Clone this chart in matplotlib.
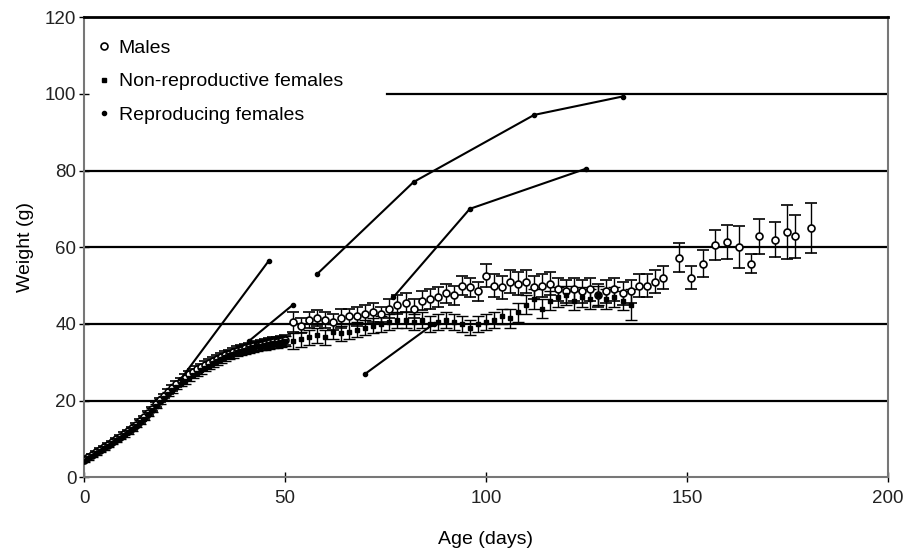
import matplotlib
matplotlib.use('Agg')
import matplotlib.pyplot as plt
from matplotlib.lines import Line2D
import numpy as np

# Males: age (days), mean weight (g), standard error
male_age = [0, 1, 2, 3, 4, 5, 6, 7, 8, 9, 10, 11, 12, 13, 14, 15, 16, 17, 18, 19,
            20, 21, 22, 23, 24, 25, 26, 27, 28, 29, 30, 31, 32, 33, 34, 35, 36, 37,
            38, 39, 40, 41, 42, 43, 44, 45, 46, 47, 48, 49, 50,
            52, 54, 56, 58, 60, 62, 64, 66, 68, 70, 72, 74, 76, 78, 80, 82, 84, 86,
            88, 90, 92, 94, 96, 98, 100, 102, 104, 106, 108, 110, 112, 114, 116, 118,
            120, 122, 124, 126, 128, 130, 132, 134, 136, 138, 140, 142, 144,
            148, 151, 154, 157, 160, 163, 166, 168, 172, 175, 177, 181]
male_wt = [4.5, 5.2, 5.8, 6.5, 7.2, 7.9, 8.5, 9.2, 9.9, 10.6, 11.3, 12.0, 12.8, 13.7,
           14.6, 15.6, 16.7, 17.8, 19.0, 20.1, 21.2, 22.3, 23.3, 24.3, 25.2, 26.0,
           26.8, 27.5, 28.1, 28.7, 29.3, 29.9, 30.4, 30.9, 31.4, 31.8, 32.2, 32.6,
           33.0, 33.3, 33.6, 33.9, 34.1, 34.3, 34.6, 34.8, 35.0, 35.2, 35.4, 35.6, 35.8,
           40.5, 39.5, 41.0, 41.5, 41.0, 40.5, 41.5, 42.0, 42.0, 42.5, 43.0, 42.5,
           44.0, 45.0, 45.5, 44.0, 46.0, 46.5, 47.0, 48.0, 47.5, 50.0, 49.5, 48.5,
           52.5, 50.0, 49.5, 51.0, 50.5, 51.0, 49.5, 50.0, 50.5, 49.0, 48.5, 49.0,
           48.5, 49.0, 47.5, 48.5, 49.0, 48.0, 48.5, 50.0, 50.0, 51.0, 52.0,
           57.3, 52.0, 55.7, 60.6, 61.4, 60.0, 55.7, 62.8, 62.0, 64.0, 62.8, 65.0]
male_se = [0.3, 0.3, 0.3, 0.3, 0.3, 0.3, 0.3, 0.3, 0.4, 0.4, 0.4, 0.4, 0.4, 0.4,
           0.5, 0.5, 0.5, 0.5, 0.6, 0.6, 0.6, 0.6, 0.7, 0.7, 0.7, 0.8, 0.8, 0.8,
           0.8, 0.9, 0.9, 0.9, 0.9, 1.0, 1.0, 1.0, 1.0, 1.0, 1.1, 1.1, 1.1, 1.1,
           1.2, 1.2, 1.2, 1.2, 1.3, 1.3, 1.3, 1.3, 1.4,
           2.5, 2.0, 2.0, 2.0, 2.0, 2.0, 2.5, 2.0, 2.5, 2.5, 2.5, 2.0, 2.5, 2.5,
           2.5, 2.5, 2.5, 2.5, 2.5, 2.5, 2.5, 2.5, 2.5, 2.5, 3.0, 3.0, 3.0, 3.0,
           3.0, 3.0, 3.0, 3.0, 3.0, 3.0, 3.0, 3.0, 3.0, 3.0, 3.0, 3.0, 3.0, 3.0,
           3.0, 3.0, 3.0, 3.0, 3.0,
           3.8, 3.0, 3.5, 4.0, 4.5, 5.5, 2.5, 4.5, 4.5, 7.0, 5.5, 6.5]

# Non-reproductive females
fem_age = [0, 1, 2, 3, 4, 5, 6, 7, 8, 9, 10, 11, 12, 13, 14, 15, 16, 17, 18, 19,
           20, 21, 22, 23, 24, 25, 26, 27, 28, 29, 30, 31, 32, 33, 34, 35, 36, 37,
           38, 39, 40, 41, 42, 43, 44, 45, 46, 47, 48, 49, 50,
           52, 54, 56, 58, 60, 62, 64, 66, 68, 70, 72, 74, 76, 78, 80, 82, 84, 86,
           88, 90, 92, 94, 96, 98, 100, 102, 104, 106, 108, 110, 112, 114, 116, 118,
           120, 122, 124, 126, 128, 130, 132, 134, 136]
fem_wt = [4.2, 4.9, 5.5, 6.2, 6.9, 7.5, 8.2, 8.9, 9.6, 10.3, 11.0, 11.7, 12.5, 13.4,
          14.3, 15.3, 16.4, 17.5, 18.6, 19.7, 20.7, 21.7, 22.7, 23.6, 24.4, 25.2,
          26.0, 26.6, 27.3, 27.9, 28.5, 29.1, 29.7, 30.2, 30.8, 31.3, 31.8, 32.2,
          32.6, 33.0, 33.3, 33.6, 33.9, 34.1, 34.3, 34.5, 34.7, 34.9, 35.1, 35.3, 35.5,
          35.5, 36.0, 36.5, 37.0, 36.5, 38.0, 37.5, 38.0, 38.5, 39.0, 39.5, 40.0,
          40.5, 41.0, 41.0, 40.5, 41.0, 40.0, 40.5, 41.0, 40.5, 40.0, 39.0, 40.0,
          40.5, 41.0, 42.0, 41.5, 43.0, 45.0, 46.5, 44.0, 46.0, 47.0, 47.5, 46.0,
          47.0, 46.5, 47.5, 46.5, 47.0, 46.0, 45.0]
fem_se = [0.3, 0.3, 0.3, 0.3, 0.3, 0.3, 0.3, 0.3, 0.4, 0.4, 0.4, 0.4, 0.4, 0.4,
          0.5, 0.5, 0.5, 0.5, 0.6, 0.6, 0.6, 0.6, 0.7, 0.7, 0.7, 0.8, 0.8, 0.8,
          0.8, 0.9, 0.9, 0.9, 0.9, 1.0, 1.0, 1.0, 1.0, 1.0, 1.1, 1.1, 1.1, 1.1,
          1.2, 1.2, 1.2, 1.2, 1.3, 1.3, 1.3, 1.3, 1.4,
          2.0, 2.0, 2.0, 2.0, 2.0, 2.0, 2.0, 2.0, 2.0, 2.0, 2.0, 2.0, 2.0, 2.0,
          2.0, 2.0, 2.0, 2.0, 2.0, 2.0, 2.0, 2.0, 2.0, 2.0, 2.0, 2.0, 2.0, 2.5,
          2.5, 2.5, 2.5, 2.5, 2.5, 2.5, 2.5, 2.5, 2.5, 2.5, 2.5, 2.5, 2.5, 2.5, 4.0]

# Reproducing females, one line per individual
repro_ages = [[24, 46], [41, 52], [58, 82, 112, 134], [77, 96, 125], [70, 87]]
repro_wts = [[25.5, 56.5], [35.5, 45], [53, 77, 94.5, 99.3], [47, 70, 80.5], [27, 40]]

plt.rcParams['font.family'] = ['Liberation Sans', 'DejaVu Sans']

fig = plt.figure(figsize=(9.04, 5.53), dpi=100)
ax = fig.add_axes([0.093, 0.137, 0.889, 0.832])

# horizontal gridlines; the one at 100 is hidden behind the legend area
for y in [20, 40, 60, 80]:
    ax.axhline(y, color='black', lw=1.6, zorder=1)
ax.axhline(100, xmin=0.377, color='black', lw=1.6, zorder=1)

ax.errorbar(male_age, male_wt, yerr=male_se, fmt='o', ms=5, mfc='white', mec='black',
            mew=1.2, ecolor='black', elinewidth=1, capsize=4, capthick=1, zorder=3)
ax.errorbar(fem_age, fem_wt, yerr=fem_se, fmt='s', ms=3.5, mfc='black', mec='black',
            ecolor='black', elinewidth=1, capsize=4, capthick=1, zorder=3)
for i in range(len(repro_ages)):
    ax.plot(repro_ages[i], repro_wts[i], color='black', lw=1.5, marker='.', ms=6,
            zorder=4)

ax.set_xlim(0, 200)
ax.set_ylim(0, 120)
ax.set_xticks([0, 50, 100, 150, 200])
ax.set_yticks([0, 20, 40, 60, 80, 100, 120])
ax.tick_params(axis='both', direction='inout', length=7, width=1, labelsize=13.5,
               colors='black', labelcolor='#222222')
ax.tick_params(axis='x', pad=6)
ax.tick_params(axis='y', pad=2)

for s in ['left', 'bottom', 'right']:
    ax.spines[s].set_color('#777777')
    ax.spines[s].set_linestyle((0, (1, 1)))
    ax.spines[s].set_linewidth(1.5)
ax.spines['top'].set_color('black')
ax.spines['top'].set_linewidth(2)

ax.set_xlabel('Age (days)', fontsize=14, labelpad=17)
ax.set_ylabel('Weight (g)', fontsize=14, labelpad=8)

handles = [
    Line2D([], [], ls='none', marker='o', ms=5, mfc='white', mec='black', mew=1.2),
    Line2D([], [], ls='none', marker='s', ms=3.5, mfc='black', mec='black'),
    Line2D([], [], ls='none', marker='.', ms=6, color='black'),
]
labels = ['Males', 'Non-reproductive females', 'Reproducing females']
ax.legend(handles, labels, loc='upper left', bbox_to_anchor=(0.008, 0.968),
          fontsize=14, frameon=False, handlelength=0.6, handletextpad=0.45,
          labelspacing=0.8, borderpad=0.4, borderaxespad=0)

plt.savefig('out.png', dpi=100)
